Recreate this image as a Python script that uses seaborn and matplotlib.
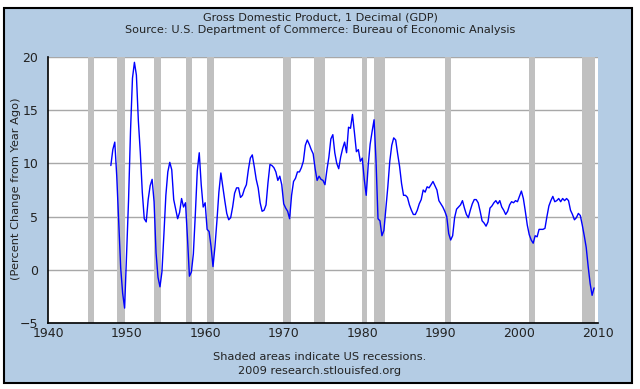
import numpy as np
import pandas as pd
import matplotlib
matplotlib.use("Agg")
import matplotlib.pyplot as plt
from matplotlib.patches import Rectangle
import seaborn as sns

# Quarterly percent change from year ago, 1948Q1 .. 2009Q3
start_year = 1948
gdp_yoy = [
    9.8, 11.3, 12.0, 8.8,      # 1948
    4.5, 0.2, -2.2, -3.6,      # 1949
    1.5, 6.5, 13.0, 18.0,      # 1950
    19.5, 18.3, 14.0, 11.0,    # 1951
    7.3, 4.8, 4.5, 6.6,        # 1952
    7.9, 8.5, 6.4, 1.6,        # 1953
    -0.7, -1.6, -0.2, 3.3,     # 1954
    7.0, 9.2, 10.1, 9.4,       # 1955
    6.6, 5.7, 4.8, 5.4,        # 1956
    6.7, 5.9, 6.3, 3.0,        # 1957
    -0.6, -0.2, 1.5, 5.2,      # 1958
    9.3, 11.0, 8.0, 5.9,       # 1959
    6.3, 3.8, 3.6, 2.2,        # 1960
    0.3, 2.2, 4.6, 7.3,        # 1961
    9.1, 7.8, 6.5, 5.3,        # 1962
    4.7, 4.9, 5.9, 7.2,        # 1963
    7.7, 7.7, 6.8, 7.0,        # 1964
    7.6, 8.0, 9.4, 10.5,       # 1965
    10.8, 9.7, 8.5, 7.7,       # 1966
    6.3, 5.5, 5.6, 6.1,        # 1967
    8.2, 9.9, 9.8, 9.6,        # 1968
    9.2, 8.4, 8.8, 8.0,        # 1969
    6.2, 5.8, 5.5, 4.8,        # 1970
    7.0, 8.3, 8.6, 9.2,        # 1971
    9.2, 9.6, 10.2, 11.7,      # 1972
    12.2, 11.8, 11.3, 10.9,    # 1973
    9.5, 8.4, 8.8, 8.5,        # 1974
    8.4, 8.0, 9.4, 10.6,       # 1975
    12.3, 12.7, 11.0, 10.0,    # 1976
    9.5, 10.6, 11.4, 12.0,     # 1977
    11.0, 13.4, 13.3, 14.6,    # 1978
    12.9, 11.1, 11.3, 10.2,    # 1979
    10.5, 8.5, 7.0, 9.8,       # 1980
    11.8, 13.0, 14.1, 10.2,    # 1981
    4.8, 4.6, 3.2, 3.7,        # 1982
    5.8, 7.8, 10.2, 11.7,      # 1983
    12.4, 12.2, 10.9, 9.7,     # 1984
    8.1, 7.0, 7.0, 6.8,        # 1985
    6.1, 5.6, 5.2, 5.2,        # 1986
    5.6, 6.2, 6.6, 7.5,        # 1987
    7.3, 7.8, 7.7, 8.0,        # 1988
    8.3, 7.9, 7.5, 6.5,        # 1989
    6.2, 5.9, 5.5, 5.0,        # 1990
    3.4, 2.8, 3.2, 4.9,        # 1991
    5.7, 5.9, 6.1, 6.5,        # 1992
    5.8, 5.2, 4.9, 5.6,        # 1993
    6.2, 6.6, 6.6, 6.3,        # 1994
    5.5, 4.6, 4.4, 4.1,        # 1995
    4.5, 5.8, 6.0, 6.3,        # 1996
    6.5, 6.2, 6.5, 5.9,        # 1997
    5.6, 5.2, 5.5, 6.1,        # 1998
    6.4, 6.3, 6.5, 6.4,        # 1999
    6.9, 7.4, 6.7, 5.5,        # 2000
    4.2, 3.3, 2.8, 2.5,        # 2001
    3.2, 3.1, 3.8, 3.8,        # 2002
    3.8, 3.9, 5.0, 6.0,        # 2003
    6.5, 6.9, 6.4, 6.5,        # 2004
    6.7, 6.4, 6.7, 6.5,        # 2005
    6.7, 6.5, 5.6, 5.2,        # 2006
    4.7, 4.9, 5.3, 5.1,        # 2007
    4.2, 3.2, 2.1, 0.3,        # 2008
    -1.3, -2.4, -1.7,          # 2009
]

# US recessions (decimal years)
rec_start = [1945.08, 1948.83, 1953.50, 1957.58, 1960.25, 1969.92, 1973.83,
             1980.00, 1981.50, 1990.50, 2001.17, 2007.92]
rec_end = [1945.83, 1949.83, 1954.42, 1958.33, 1961.17, 1970.92, 1975.25,
           1980.58, 1982.92, 1991.25, 2001.92, 2009.60]

x_ticks = [1940, 1950, 1960, 1970, 1980, 1990, 2000, 2010]
y_ticks = [-5, 0, 5, 10, 15, 20]

title = "Gross Domestic Product, 1 Decimal (GDP)\nSource: U.S. Department of Commerce: Bureau of Economic Analysis"
ylabel = "(Percent Change from Year Ago)"
footer = "Shaded areas indicate US recessions.\n2009 research.stlouisfed.org"

df = pd.DataFrame({
    "date": start_year + np.arange(len(gdp_yoy)) / 4.0,
    "value": gdp_yoy,
})

sns.set_style("white")
plt.rcParams["font.family"] = ["DejaVu Sans"]

W, H = 640, 389
fig = plt.figure(figsize=(W / 100, H / 100), dpi=100, facecolor="white")
bg = Rectangle((4 / W, 1 - 383 / H), (632 - 4) / W, (383 - 8) / H,
               transform=fig.transFigure, facecolor="#B4CCE4",
               edgecolor="black", linewidth=1.5, zorder=-10)
fig.patches.append(bg)

ax = fig.add_axes([48 / W, 1 - 323 / H, (598 - 48) / W, (323 - 57) / H])
ax.set_zorder(1)
ax.set_facecolor("white")

for s, e in zip(rec_start, rec_end):
    ax.axvspan(s, e, color="#C0C0C0", lw=0, zorder=1)

for yv in y_ticks:
    ax.axhline(yv, color="#A8A8A8", lw=1.0, zorder=0.5)

sns.lineplot(data=df, x="date", y="value", ax=ax, color="#0000FF",
             linewidth=1.0, zorder=3)

ax.set_xlim(1940, 2010)
ax.set_ylim(-5, 20)
ax.set_xticks(x_ticks)
ax.set_yticks(y_ticks)
ax.set_xlabel("")
ax.set_ylabel("")
ax.tick_params(axis="x", direction="in", length=5, width=1, labelsize=9,
               colors="black", labelcolor="#222222", pad=3)
ax.tick_params(axis="y", direction="out", length=5, width=1, labelsize=9,
               colors="black", labelcolor="#222222", pad=2)
for side in ["top", "right"]:
    ax.spines[side].set_visible(False)
for side in ["left", "bottom"]:
    ax.spines[side].set_color("black")
    ax.spines[side].set_linewidth(1.2)
    ax.spines[side].set_zorder(4)

fig.text(16 / W, 1 - 189 / H, ylabel, rotation=90, ha="center", va="center",
         fontsize=8.2, color="#222222")
fig.text(0.5, 1 - 24 / H, title, ha="center", va="center", fontsize=8.1,
         color="#222222", linespacing=1.25)
fig.text(0.5, 1 - 364 / H, footer, ha="center", va="center", fontsize=8.2,
         color="#222222", linespacing=1.45)

fig.savefig("out.png", dpi=100, facecolor="white")
